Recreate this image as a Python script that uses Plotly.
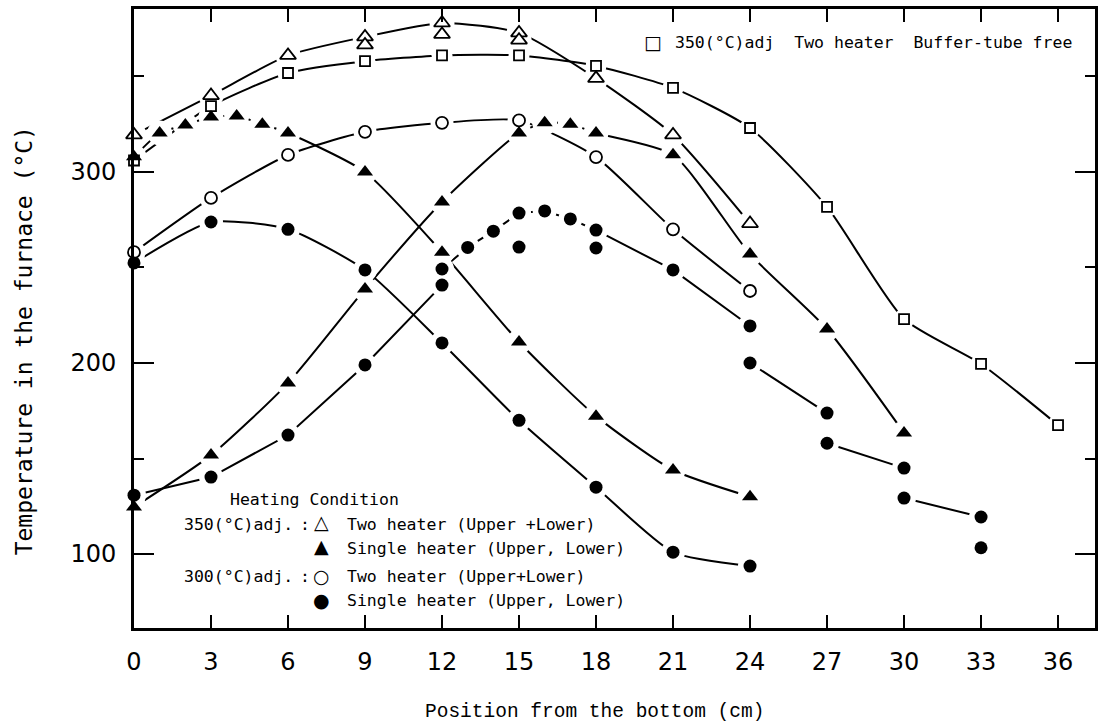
import plotly.graph_objects as go

# Position from the bottom of the furnace (cm) and measured temperature (°C)

# 350 (°C) adj., two heaters, buffer-tube free
sq_x = [0, 3, 6, 9, 12, 15, 18, 21, 24, 27, 30, 33, 36]
sq_y = [306, 334.5, 351.8, 358, 361, 361, 355.5, 344, 323, 281.7, 223, 199.5, 167.5]

# 350 (°C) adj., two heaters (upper + lower)
tri_open_x = [0, 3, 6, 9, 12, 15, 18, 21, 24]
tri_open_y = [319.4, 340, 361, 370.7, 378, 372.8, 349, 319.4, 273]
tri_open_rep_x = [9, 12, 15]
tri_open_rep_y = [366.5, 372, 369]

# 350 (°C) adj., single heater - lower
tri_low_x = [0, 1, 2, 3, 4, 5, 6, 9, 12, 15, 18, 21, 24]
tri_low_y = [307.9, 320.4, 324.6, 328.8, 329.3, 325, 320.4, 300, 258, 211, 172.2, 144, 130]

# 350 (°C) adj., single heater - upper
tri_up_x = [0, 3, 6, 9, 12, 15, 16, 17, 18, 21, 24, 27, 30]
tri_up_y = [124.6, 151.8, 189.5, 238.7, 284.3, 320.4, 325.7, 325, 320.4, 309, 257, 217.8, 163.4]

# 300 (°C) adj., two heaters (upper + lower)
circ_open_x = [0, 3, 6, 9, 12, 15, 18, 21, 24]
circ_open_y = [258, 286.4, 308.9, 321, 325.7, 327, 307.8, 270, 237.7]

# 300 (°C) adj., single heater - lower
circ_low_x = [0, 3, 6, 9, 12, 15, 18, 21, 24]
circ_low_y = [252.4, 273.8, 270, 248.7, 210.5, 170, 135, 101, 93.7]

# 300 (°C) adj., single heater - upper (None separates the drawn pen strokes)
circ_up_x = [0, 3, 6, 9, 12, 12, 13, 14, 15, 16, 17, 18, 21, 24, None,
             24, 27, None, 27, 30, None, 30, 33]
circ_up_y = [130.8, 140.3, 162.3, 199, 240.8, 249.2, 260.5, 269, 278.5, 279.6, 275.4,
             269.6, 248.7, 219.4, None, 200, 173.8, None, 158, 145, None, 129.3, 119.4]
circ_up_rep_x = [15, 18, 33]
circ_up_rep_y = [260.7, 260.2, 103.3]

x_ticks = list(range(0, 37, 3))
y_ticks = [100, 200, 300]
y_minor = [150, 250, 350]

# plot-area geometry in pixels
W, H = 1102, 727
L, R, T, B = 134, 4, 9, 99
PW, PH = W - L - R, H - T - B


def px(xp):
    return (xp - L) / PW


def py(yp):
    return (H - B - yp) / PH


series = [
    dict(x=sq_x, y=sq_y, sym="square", fill="white", size=10, smooth=True),
    dict(x=tri_open_x, y=tri_open_y, sym="triangle-up", fill="white", size=14,
         rx=tri_open_rep_x, ry=tri_open_rep_y, smooth=True),
    dict(x=circ_open_x, y=circ_open_y, sym="circle", fill="white", size=12, smooth=True),
    dict(x=tri_low_x, y=tri_low_y, sym="triangle-up", fill="black", size=14, smooth=True),
    dict(x=tri_up_x, y=tri_up_y, sym="triangle-up", fill="black", size=14, smooth=True),
    dict(x=circ_low_x, y=circ_low_y, sym="circle", fill="black", size=13, smooth=True),
    dict(x=circ_up_x, y=circ_up_y, sym="circle", fill="black", size=13,
         rx=circ_up_rep_x, ry=circ_up_rep_y, smooth=False),
]

fig = go.Figure()

# connecting curves
for s in series:
    line = dict(color="black", width=2)
    if s["smooth"]:
        line.update(shape="spline", smoothing=0.6)
    fig.add_trace(go.Scatter(x=s["x"], y=s["y"], mode="lines", line=line,
                             connectgaps=False, cliponaxis=False,
                             hoverinfo="skip", showlegend=False))


def all_points(s):
    xs = [v for v in s["x"] if v is not None] + s.get("rx", [])
    ys = [v for v in s["y"] if v is not None] + s.get("ry", [])
    return xs, ys


# white clearance around each symbol, as in pen-plotted curves
for s in series:
    xs, ys = all_points(s)
    fig.add_trace(go.Scatter(x=xs, y=ys, mode="markers",
                             marker=dict(symbol="circle", color="white",
                                         size=s["size"] + 11, line=dict(width=0)),
                             cliponaxis=False, hoverinfo="skip", showlegend=False))

# data symbols
for s in series:
    xs, ys = all_points(s)
    open_sym = s["fill"] == "white"
    fig.add_trace(go.Scatter(x=xs, y=ys, mode="markers",
                             marker=dict(symbol=s["sym"], color=s["fill"], size=s["size"],
                                         line=dict(color="black",
                                                   width=1.8 if open_sym else 0)),
                             cliponaxis=False, showlegend=False))

tick_font = dict(family="DejaVu Sans", size=24, color="black")
txt_font = dict(family="DejaVu Sans Mono", size=16.5, color="black")
sym_font = dict(family="DejaVu Sans", size=19, color="black")

fig.update_layout(
    width=W, height=H,
    margin=dict(l=L, r=R, t=T, b=B),
    paper_bgcolor="white", plot_bgcolor="white",
    xaxis=dict(range=[0, 37.44], tickvals=x_ticks, ticks="inside", ticklen=13,
               tickwidth=2, tickcolor="black", showline=True, linewidth=3,
               linecolor="black", mirror="allticks", showgrid=False, zeroline=False,
               tickfont=tick_font, ticklabelstandoff=10),
    yaxis=dict(range=[61.3, 385.3], tickvals=y_ticks, ticks="inside", ticklen=20,
               tickwidth=2, tickcolor="black", showline=True, linewidth=3,
               linecolor="black", mirror="allticks", showgrid=False, zeroline=False,
               tickfont=tick_font, ticklabelstandoff=10,
               minor=dict(tickvals=y_minor, ticks="inside", ticklen=10, tickwidth=2,
                          tickcolor="black", showgrid=False)),
)

ann = []


def text(xp, yp, s, font, xanchor="left", angle=0):
    ann.append(dict(x=px(xp), y=py(yp), xref="paper", yref="paper", text=s,
                    showarrow=False, xanchor=xanchor, yanchor="middle",
                    font=font, textangle=angle))


# axis titles
text(24, 341, "Temperature in the furnace (°C)",
     dict(family="DejaVu Sans Mono", size=23, color="black"), xanchor="center", angle=-90)
text(596, 712, "Position from the bottom (cm)",
     dict(family="Liberation Mono", size=19.5, color="black"), xanchor="center")

# upper-right key
text(655, 42, "□", sym_font, xanchor="center")
text(675, 43, "350(°C)adj  Two heater  Buffer-tube free", txt_font)

# heating-condition key
text(228, 499, "Heating Condition", txt_font)
text(182, 524, "350(°C)adj.", txt_font)
text(306, 524, ":", txt_font, xanchor="center")
text(322, 522, "△", sym_font, xanchor="center")
text(346, 524, "Two heater (Upper +Lower)", txt_font)
text(322, 546, "▲", sym_font, xanchor="center")
text(346, 548, "Single heater (Upper, Lower)", txt_font)
text(182, 576, "300(°C)adj.", txt_font)
text(306, 576, ":", txt_font, xanchor="center")
text(322, 576, "○", sym_font, xanchor="center")
text(346, 576, "Two heater (Upper+Lower)", txt_font)
text(322, 600, "●", sym_font, xanchor="center")
text(346, 600, "Single heater (Upper, Lower)", txt_font)

fig.update_layout(annotations=ann)

fig.write_html("out.html")
